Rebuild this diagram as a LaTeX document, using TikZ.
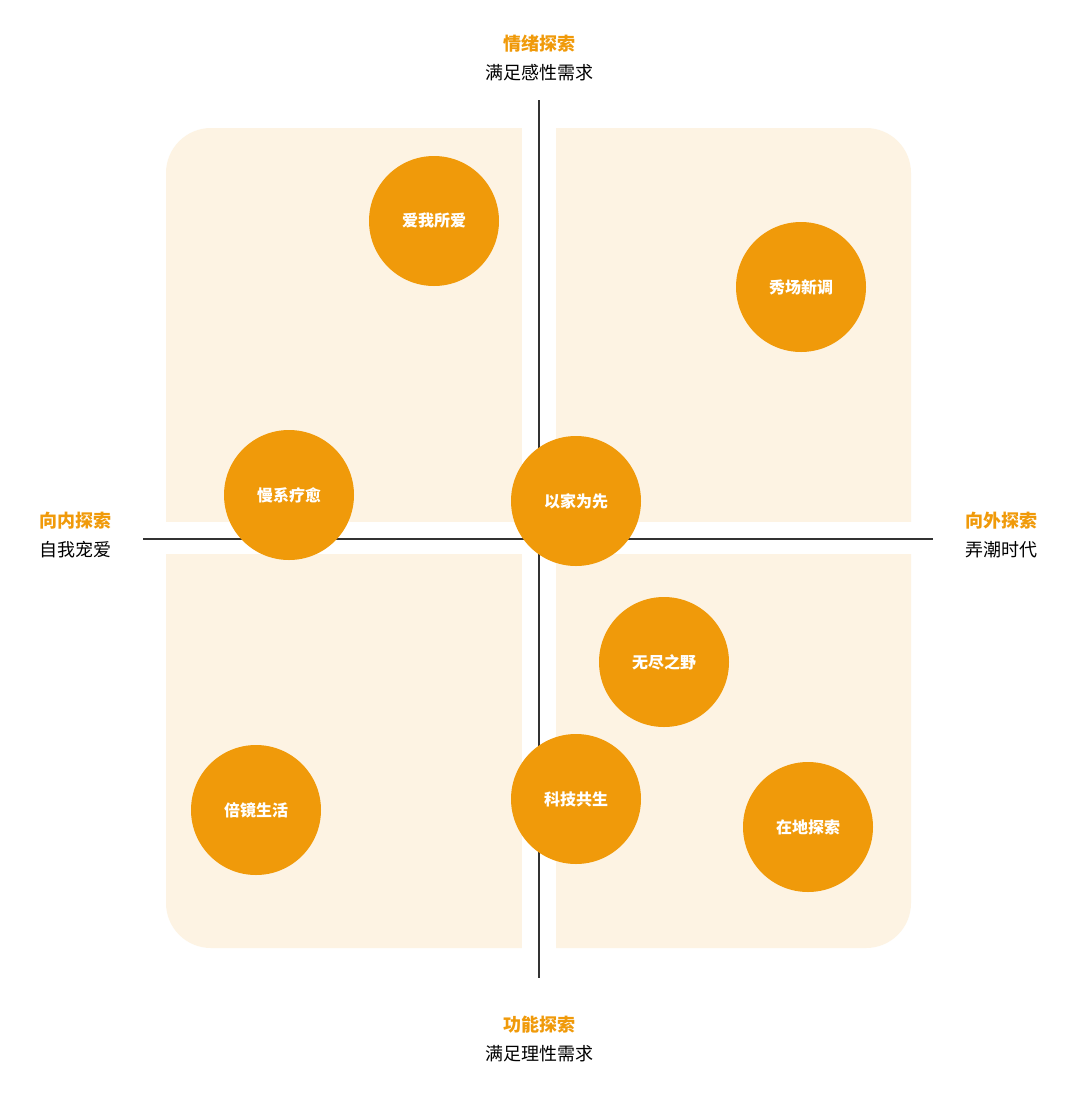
\documentclass[tikz,border=0pt]{standalone}
\usepackage{fontspec}
\setmainfont{Noto Sans CJK SC}
\definecolor{cream}{HTML}{FDF3E3}
\definecolor{org}{HTML}{F09A0A}
\definecolor{axis}{HTML}{333333}
\begin{document}
\begin{tikzpicture}[x=1pt,y=-1pt,
  bub/.style={circle,fill=org,minimum size=130pt,inner sep=0pt,text=white,font=\fontsize{16}{18}\selectfont\bfseries},
  head/.style={text=org,font=\fontsize{18}{20}\selectfont\bfseries,inner sep=0pt},
  sub/.style={text=black,font=\fontsize{18}{20}\selectfont,inner sep=0pt}]
\useasboundingbox[fill=white] (0,0) rectangle (1080,1093);
\fill[cream,rounded corners=45pt] (166,128) rectangle (911,948);
\fill[white] (522,120) rectangle (556,960);
\fill[white] (160,522) rectangle (920,554);
\coordinate (t) at (539,100); \coordinate (b) at (539,978);
\coordinate (l) at (143,539); \coordinate (r) at (933,539);
\draw[axis,line width=1.5pt] (t) -- (b);
\draw[axis,line width=1.5pt] (l) -- (r);
\node[bub] (n1) at (434,221) {爱我所爱};
\node[bub] (n2) at (801,287) {秀场新调};
\node[bub] (n3) at (289,495) {慢系疗愈};
\node[bub] (n4) at (576,501) {以家为先};
\node[bub] (n5) at (664,662) {无尽之野};
\node[bub] (n6) at (576,799) {科技共生};
\node[bub] (n7) at (256,810) {倍镜生活};
\node[bub] (n8) at (808,827) {在地探索};
\node[head] (h1) at (539,44) {情绪探索};
\node[sub] (s1) at (539,73) {满足感性需求};
\node[head] (h2) at (75,521) {向内探索};
\node[sub] (s2) at (75,550) {自我宠爱};
\node[head] (h3) at (1001,521) {向外探索};
\node[sub] (s3) at (1001,550) {弄潮时代};
\node[head] (h4) at (539,1025) {功能探索};
\node[sub] (s4) at (539,1054) {满足理性需求};
\end{tikzpicture}
\end{document}
